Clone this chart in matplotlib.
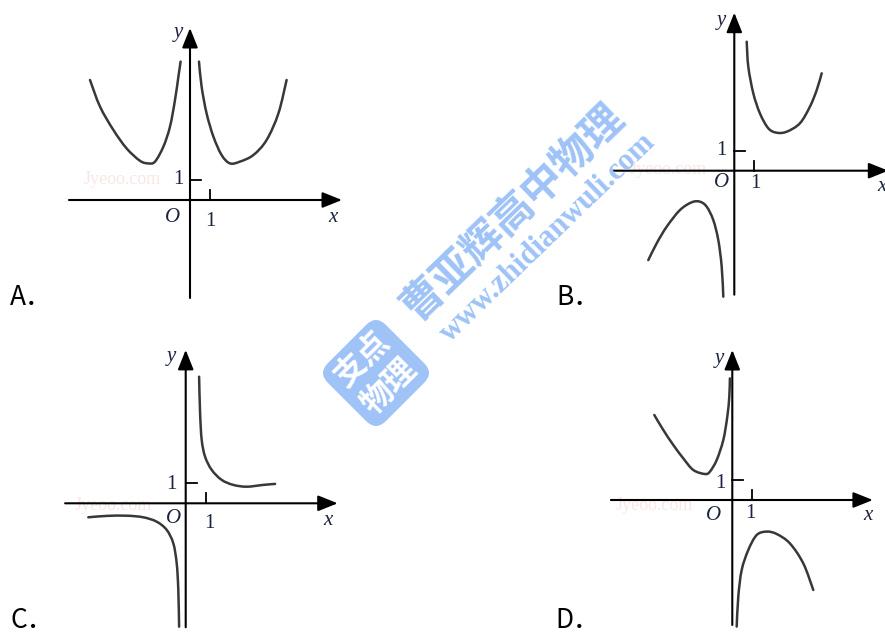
import matplotlib
matplotlib.use("Agg")
import matplotlib.pyplot as plt
from matplotlib.patches import FancyBboxPatch, PathPatch
from matplotlib.path import Path
import matplotlib.transforms as mtransforms

# ---------------- data (in graph units) ----------------
panel_labels = ["A．", "B．", "C．", "D．"]
axis_names = ["x", "y"]
origin_name = "O"
tick_label = "1"

A_left_x = [-5.0, -4.5, -3.83, -3.17, -2.5, -2.08, -1.75, -1.33, -1.0, -0.75, -0.58, -0.47]
A_left_y = [6.0, 4.67, 3.5, 2.58, 1.96, 1.83, 1.92, 2.67, 3.67, 5.0, 6.17, 6.92]
A_right_x = [0.45, 0.58, 0.83, 1.17, 1.58, 2.0, 2.5, 3.17, 3.83, 4.42, 4.83]
A_right_y = [6.92, 5.67, 4.33, 3.17, 2.25, 1.83, 1.92, 2.25, 3.0, 4.33, 6.0]

B_left_x = [-4.3, -3.88, -3.38, -2.72, -2.13, -1.72, -1.38, -1.05, -0.8, -0.63, -0.55]
B_left_y = [-4.47, -3.63, -2.8, -1.97, -1.58, -1.55, -1.8, -2.47, -3.47, -4.8, -6.3]
B_right_x = [0.62, 0.7, 0.95, 1.28, 1.7, 2.12, 2.62, 3.28, 3.78, 4.12, 4.37]
B_right_y = [6.45, 5.2, 3.87, 2.87, 2.12, 1.9, 1.95, 2.37, 3.2, 4.03, 4.87]

C_left_x = [-4.87, -3.95, -2.95, -2.12, -1.45, -0.95, -0.62, -0.45, -0.37, -0.33]
C_left_y = [-0.7, -0.63, -0.62, -0.7, -0.92, -1.33, -2.0, -3.0, -4.33, -6.17]
C_right_x = [0.67, 0.72, 0.8, 0.97, 1.3, 1.8, 2.38, 3.05, 3.88, 4.47]
C_right_y = [6.33, 4.5, 3.17, 2.33, 1.67, 1.17, 0.92, 0.83, 0.92, 0.97]

D_left_x = [-3.9, -3.45, -2.95, -2.45, -1.95, -1.37, -1.12, -0.78, -0.45, -0.25, -0.15, -0.12]
D_left_y = [4.25, 3.5, 2.75, 2.08, 1.5, 1.3, 1.42, 2.0, 3.0, 4.17, 5.17, 6.08]
D_right_x = [0.22, 0.3, 0.47, 0.8, 1.22, 1.72, 2.22, 2.88, 3.55, 4.05]
D_right_y = [-6.33, -4.83, -3.5, -2.5, -1.75, -1.58, -1.7, -2.17, -3.17, -4.5]

watermark_main = "曹亚辉高中物理"
watermark_url = "www.zhidianwuli.com"
logo_rows = ["支点", "物理"]
faint_mark = "Jyeoo.com"

# ---------------- layout ----------------
W, H = 885, 638
UNIT = 20.0
fig = plt.figure(figsize=(W / 100, H / 100), dpi=100)
fig.patch.set_facecolor("white")

CURVE = "#383838"
LABEL = "#1c2340"
SERIF = "Liberation Serif"


def smooth_curve(ax, xs, ys):
    """Draw a smooth curve through the read points (Catmull-Rom rendered as Bezier)."""
    pts = list(zip(xs, ys))
    n = len(pts)
    verts = [pts[0]]
    codes = [Path.MOVETO]
    for i in range(n - 1):
        p0 = pts[i - 1] if i > 0 else pts[i]
        p1 = pts[i]
        p2 = pts[i + 1]
        p3 = pts[i + 2] if i + 2 < n else pts[i + 1]
        c1 = (p1[0] + (p2[0] - p0[0]) / 6, p1[1] + (p2[1] - p0[1]) / 6)
        c2 = (p2[0] - (p3[0] - p1[0]) / 6, p2[1] - (p3[1] - p1[1]) / 6)
        verts += [c1, c2, p2]
        codes += [Path.CURVE4] * 3
    ax.add_patch(PathPatch(Path(verts, codes), fill=False, edgecolor=CURVE,
                           lw=1.8, capstyle="round", joinstyle="round"))


def panel(ox, oy, xr, yr, labels):
    (x0, x1), (y0, y1) = (-7.5, 8.5), (-7.5, 9.5)
    left = (ox + x0 * UNIT) / W
    bottom = (H - oy + y0 * UNIT) / H
    ax = fig.add_axes([left, bottom, (x1 - x0) * UNIT / W, (y1 - y0) * UNIT / H])
    ax.set_xlim(x0, x1)
    ax.set_ylim(y0, y1)
    ax.axis("off")
    ap = dict(arrowstyle="-|>,head_length=0.75,head_width=0.3", lw=1.5,
              color="black", mutation_scale=16, shrinkA=0, shrinkB=0)
    ax.annotate("", xy=(xr[1], 0), xytext=(xr[0], 0), arrowprops=ap, annotation_clip=False)
    ax.annotate("", xy=(0, yr[1]), xytext=(0, yr[0]), arrowprops=ap, annotation_clip=False)
    ax.plot([1, 1], [0, 0.5], color="black", lw=1.3)
    ax.plot([0, 0.55], [1, 1], color="black", lw=1.3)
    (yx, yy), (ox_, oy_), (t1x, t1y), (t2x, t2y), (xx, xy) = labels
    kw = dict(fontsize=15, color=LABEL, family=SERIF, ha="center", va="center", clip_on=False)
    ax.text(yx, yy, axis_names[1], style="italic", **kw)
    ax.text(ox_, oy_, origin_name, style="italic", **kw)
    ax.text(t1x, t1y, tick_label, **kw)
    ax.text(t2x, t2y, tick_label, **kw)
    ax.text(xx, xy, axis_names[0], style="italic", **kw)
    return ax


def faint(ax, x, y):
    ax.text(x, y, faint_mark, fontsize=13, color="#fbe6e6", family=SERIF,
            ha="center", va="center", zorder=0)


axA = panel(190, 200, (-6.05, 7.6), (-4.9, 8.6),
            [(-0.6, 8.35), (-0.85, -0.9), (1.0, -1.1), (-0.6, 1.0), (7.15, -0.9)])
faint(axA, -3.4, 1.0)
smooth_curve(axA, A_left_x, A_left_y)
smooth_curve(axA, A_right_x, A_right_y)

axB = panel(734.3, 170.7, (-6.07, 7.7), (-6.2, 7.9),
            [(-0.63, 7.53), (-0.63, -0.6), (1.03, -0.65), (-0.67, 1.03), (7.37, -0.8)])
faint(axB, -3.3, 0.05)
smooth_curve(axB, B_left_x, B_left_y)
smooth_curve(axB, B_right_x, B_right_y)

axC = panel(185.7, 503.3, (-6.03, 7.6), (-6.2, 7.67),
            [(-0.7, 7.33), (-0.62, -0.75), (1.18, -1.0), (-0.73, 0.92), (7.13, -0.87)])
faint(axC, -3.6, -0.1)
smooth_curve(axC, C_left_x, C_left_y)
smooth_curve(axC, C_right_x, C_right_y)

axD = panel(732.3, 500, (-6.07, 7.03), (-6.25, 7.5),
            [(-0.67, 7.08), (-0.92, -0.75), (0.92, -0.67), (-0.62, 0.83), (6.8, -0.75)])
faint(axD, -3.9, -0.3)
smooth_curve(axD, D_left_x, D_left_y)
smooth_curve(axD, D_right_x, D_right_y)

# ---------------- option letters ----------------
letter_pos = [(10, 305), (556, 305), (10, 628), (555, 628)]
for lab, (px, py) in zip(panel_labels, letter_pos):
    fig.text(px / W, 1 - py / H, lab, fontsize=19,
             family=["Noto Sans CJK SC", "DejaVu Sans"], color="black",
             ha="left", va="baseline")

# ---------------- watermark ----------------
WM = "#9fc3f6"
fig.text(513 / W, 1 - 212 / H, watermark_main, fontsize=30, fontweight="bold",
         family=["Noto Sans CJK SC"], color=WM, rotation=44,
         ha="center", va="center", rotation_mode="anchor")
fig.text(548 / W, 1 - 238 / H, watermark_url, fontsize=22, fontweight="bold",
         family=SERIF, color=WM, rotation=44, ha="center", va="center",
         rotation_mode="anchor")

# logo: rounded square rotated 45 degrees
cx, cy = 376, 373
side = 82
box = FancyBboxPatch((cx - side / 2, H - cy - side / 2), side, side,
                     boxstyle="round,pad=0,rounding_size=14",
                     transform=mtransforms.Affine2D().rotate_deg_around(cx, H - cy, 45),
                     facecolor=WM, edgecolor="none")
fig.patches.append(box)
for i, row in enumerate(logo_rows):
    off = (-1 if i == 0 else 1) * 19
    tx = cx + off * 0.7071
    ty = cy + off * 0.7071
    fig.text(tx / W, 1 - ty / H, row, fontsize=23, fontweight="bold",
             family=["Noto Sans CJK SC"], color="white", rotation=45,
             ha="center", va="center", rotation_mode="anchor")

fig.savefig("out.png", dpi=100, facecolor="white")
